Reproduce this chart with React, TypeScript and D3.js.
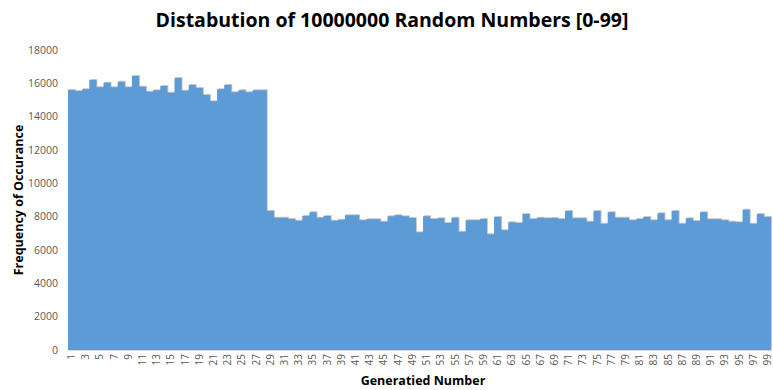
import React from "react";
import * as d3 from "d3";

// Frequency counts for each generated number 1..99
const numbers: number[] = Array.from({ length: 99 }, (_, i) => i + 1);
const highCounts: number[] = [
  15600, 15540, 15640, 16200, 15760, 16040, 15760, 16100, 15760, 16440,
  15800, 15500, 15580, 15840, 15440, 16320, 15560, 15900, 15720, 15300,
  14920, 15640, 15900, 15460, 15580, 15460, 15580, 15580,
];
const lowCounts: number[] = [
  8340, 7940, 7940, 7860, 7760, 8040, 8260, 7940, 8040, 7760,
  7820, 8080, 8080, 7780, 7840, 7840, 7700, 8020, 8080, 8020,
  7920, 7060, 8020, 7860, 7900, 7620, 7940, 7100, 7780, 7780,
  7860, 6940, 7980, 7180, 7660, 7620, 8160, 7860, 7940, 7900,
  7920, 7860, 8340, 7900, 7900, 7700, 8340, 7580, 8260, 7940,
  7940, 7780, 7860, 7980, 7780, 8200, 7780, 8340, 7580, 7900,
  7740, 8260, 7840, 7840, 7780, 7700, 7660, 8420, 7580, 8160,
  7980,
];
const counts: number[] = [...highCounts, ...lowCounts];
const yTicks: number[] = [0, 2000, 4000, 6000, 8000, 10000, 12000, 14000, 16000, 18000];

const W = 773;
const H = 390;
const left = 68;
const right = 771;
const top = 50;
const bottom = 350;

export default function App() {
  const x = d3
    .scaleBand<number>()
    .domain(numbers)
    .range([left, right])
    .paddingInner(0)
    .paddingOuter(0);
  const y = d3.scaleLinear().domain([0, 18000]).range([bottom, top]);

  const barPath = (() => {
    // one continuous outline for the touching bars
    const p = d3.path();
    p.moveTo(left, bottom);
    numbers.forEach((n, i) => {
      const x0 = x(n)!;
      const x1 = x0 + x.bandwidth();
      const yy = y(counts[i]);
      p.lineTo(x0, yy);
      p.lineTo(x1, yy);
    });
    p.lineTo(right, bottom);
    p.closePath();
    return p.toString();
  })();

  const font = "'Open Sans', 'Liberation Sans', sans-serif";

  return (
    <svg
      width={W}
      height={H}
      style={{ position: "absolute", left: 0, top: 0, background: "#fff" }}
      fontFamily={font}
    >
      <defs>
        <filter id="barShadow" x="-5%" y="-5%" width="110%" height="110%">
          <feDropShadow dx="0.8" dy="-0.8" stdDeviation="0.6" floodColor="#7f7f7f" floodOpacity="0.55" />
        </filter>
      </defs>
      <rect width={W} height={H} fill="#fff" />
      <text
        x={392}
        y={27}
        textAnchor="middle"
        fontSize={19.5}
        fontWeight="bold"
        fill="#000"
      >
        Distabution of 10000000 Random Numbers [0-99]
      </text>

      {yTicks.map((t) => (
        <text
          key={t}
          x={58}
          y={y(t)}
          dy="0.35em"
          textAnchor="end"
          fontSize={10.5}
          fill="#595959"
        >
          {t}
        </text>
      ))}

      <path d={barPath} fill="#5B9BD5" filter="url(#barShadow)" />
      <line x1={left} x2={W} y1={bottom + 0.5} y2={bottom + 0.5} stroke="#d9d9d9" />

      {numbers
        .filter((n) => n % 2 === 1)
        .map((n) => {
          const cx = x(n)! + x.bandwidth() / 2;
          return (
            <text
              key={n}
              transform={`translate(${cx + 3.5},${354}) rotate(-90)`}
              textAnchor="end"
              fontSize={10}
              fill="#595959"
            >
              {n}
            </text>
          );
        })}

      <text
        transform={`translate(23,${200}) rotate(-90)`}
        textAnchor="middle"
        fontSize={12.5}
        fontWeight="bold"
        fill="#000"
      >
        Frequency of Occurance
      </text>
      <text x={423} y={385} textAnchor="middle" fontSize={12.5} fontWeight="bold" fill="#000">
        Generatied Number
      </text>
    </svg>
  );
}
